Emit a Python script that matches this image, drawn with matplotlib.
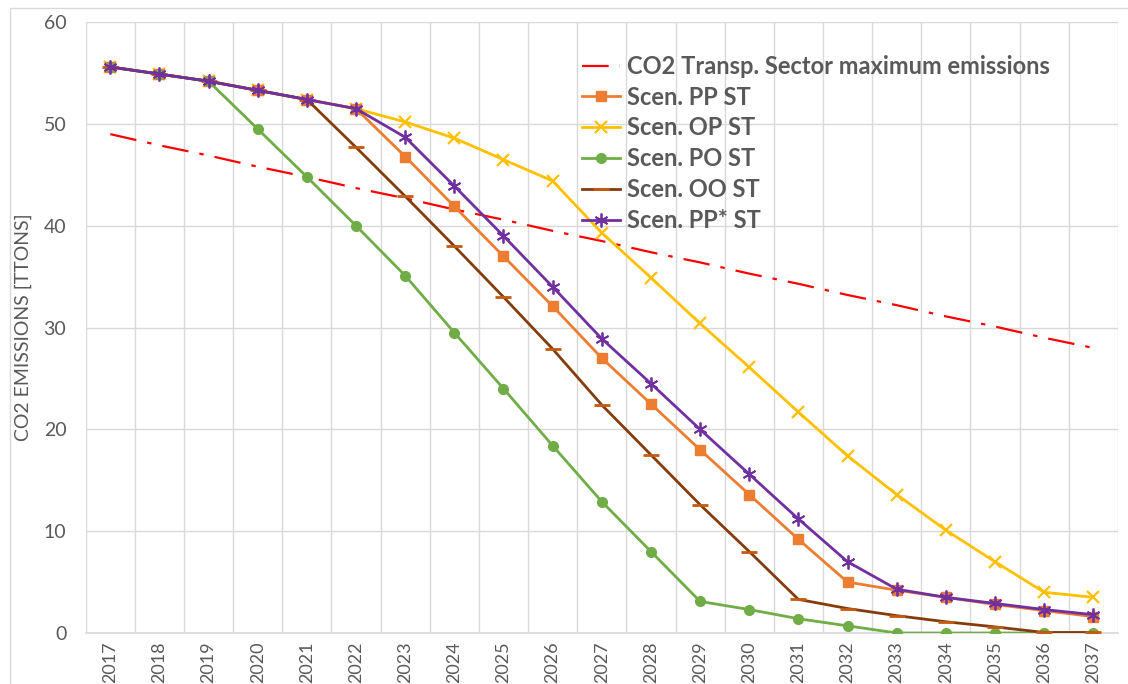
import numpy as np
import matplotlib.pyplot as plt
from matplotlib.patches import Rectangle

years = [str(y) for y in range(2017, 2038)]

co2_max = [49.0, 47.9, 46.9, 45.8, 44.8, 43.7, 42.7, 41.6, 40.6, 39.5, 38.5,
           37.4, 36.4, 35.3, 34.3, 33.2, 32.2, 31.1, 30.1, 29.0, 28.0]
pp_st = [55.6, 54.9, 54.2, 53.3, 52.4, 51.5, 46.8, 41.9, 37.0, 32.1, 27.0,
         22.5, 18.0, 13.6, 9.2, 5.0, 4.2, 3.5, 2.8, 2.2, 1.6]
op_st = [55.6, 54.9, 54.2, 53.3, 52.4, 51.5, 50.2, 48.6, 46.5, 44.4, 39.3,
         34.9, 30.4, 26.1, 21.7, 17.4, 13.6, 10.1, 7.0, 4.0, 3.5]
po_st = [55.6, 54.9, 54.2, 49.5, 44.8, 40.0, 35.1, 29.5, 24.0, 18.4, 12.9,
         8.0, 3.1, 2.3, 1.4, 0.7, 0.0, 0.0, 0.0, 0.0, 0.0]
oo_st = [55.6, 54.9, 54.2, 53.3, 52.4, 47.7, 42.9, 38.0, 33.0, 27.9, 22.4,
         17.5, 12.6, 8.0, 3.3, 2.4, 1.7, 1.1, 0.6, 0.05, 0.05]
pps_st = [55.6, 54.9, 54.2, 53.3, 52.4, 51.5, 48.7, 43.9, 39.0, 34.0, 28.9,
          24.5, 20.0, 15.6, 11.2, 7.0, 4.3, 3.5, 2.9, 2.3, 1.8]

plt.rcParams['font.family'] = ['Lato', 'DejaVu Sans']

fig = plt.figure(figsize=(11.28, 6.84), dpi=100)
ax = fig.add_axes([0.076, 0.0746, 0.915, 0.893])
fig.patches.append(Rectangle((0.009, -0.02), 1.0, 1.008, transform=fig.transFigure,
                             fill=False, edgecolor='#d9d9d9', linewidth=1))

x = np.arange(len(years))

ax.plot(x, co2_max, color='#ff0000', linestyle=(0, (12, 5, 2, 5)), linewidth=1.6,
        label='CO2 Transp. Sector maximum emissions', zorder=3)
ax.plot(x, pp_st, color='#ed7d31', marker='s', markersize=7, linewidth=2,
        label='Scen. PP ST', zorder=4)
ax.plot(x, op_st, color='#ffc000', marker='x', markersize=9, markeredgewidth=1.6,
        linewidth=2, label='Scen. OP ST', zorder=3)
ax.plot(x, po_st, color='#70ad47', marker='o', markersize=7, linewidth=2,
        label='Scen. PO ST', zorder=4)
ax.plot(x, oo_st, color='#843c0c', marker='_', markersize=12, markeredgewidth=2,
        markeredgecolor='#c55a11', linewidth=2, label='Scen. OO ST', zorder=5)
ax.plot(x, pps_st, color='#7030a0', marker=(6, 2, 0), markersize=10, markeredgewidth=1.3,
        linewidth=2, label='Scen. PP* ST', zorder=6)

ax.set_xlim(-0.5, len(years) - 0.5)
ax.set_ylim(0, 60)
ax.set_yticks(range(0, 61, 10))
ax.set_xticks(x)
ax.set_xticklabels(years, rotation=90, fontsize=13, color='#595959')
ax.set_xticks(np.arange(-0.5, len(years), 1.0), minor=True)
ax.tick_params(axis='x', which='both', length=0, pad=6)
ax.tick_params(axis='y', length=0, labelsize=14, labelcolor='#595959', pad=14)

ax.grid(axis='y', color='#d9d9d9', linewidth=1)
ax.grid(axis='x', which='minor', color='#d9d9d9', linewidth=1)
for s in ['top', 'right', 'left']:
    ax.spines[s].set_visible(False)
ax.spines['bottom'].set_color('#d9d9d9')
ax.spines['bottom'].set_linewidth(1.2)

ax.set_ylabel('CO2 EMISSIONS [TTONS]', fontsize=14, color='#595959', labelpad=8)

leg = ax.legend(loc='upper left', bbox_to_anchor=(0.472, 0.962), frameon=False,
                prop={'weight': 'bold', 'size': 17}, handlelength=1.6,
                handletextpad=0.3, labelspacing=0.33, borderaxespad=0)
for t in leg.get_texts():
    t.set_color('#595959')

fig.savefig('out.png', dpi=100)
